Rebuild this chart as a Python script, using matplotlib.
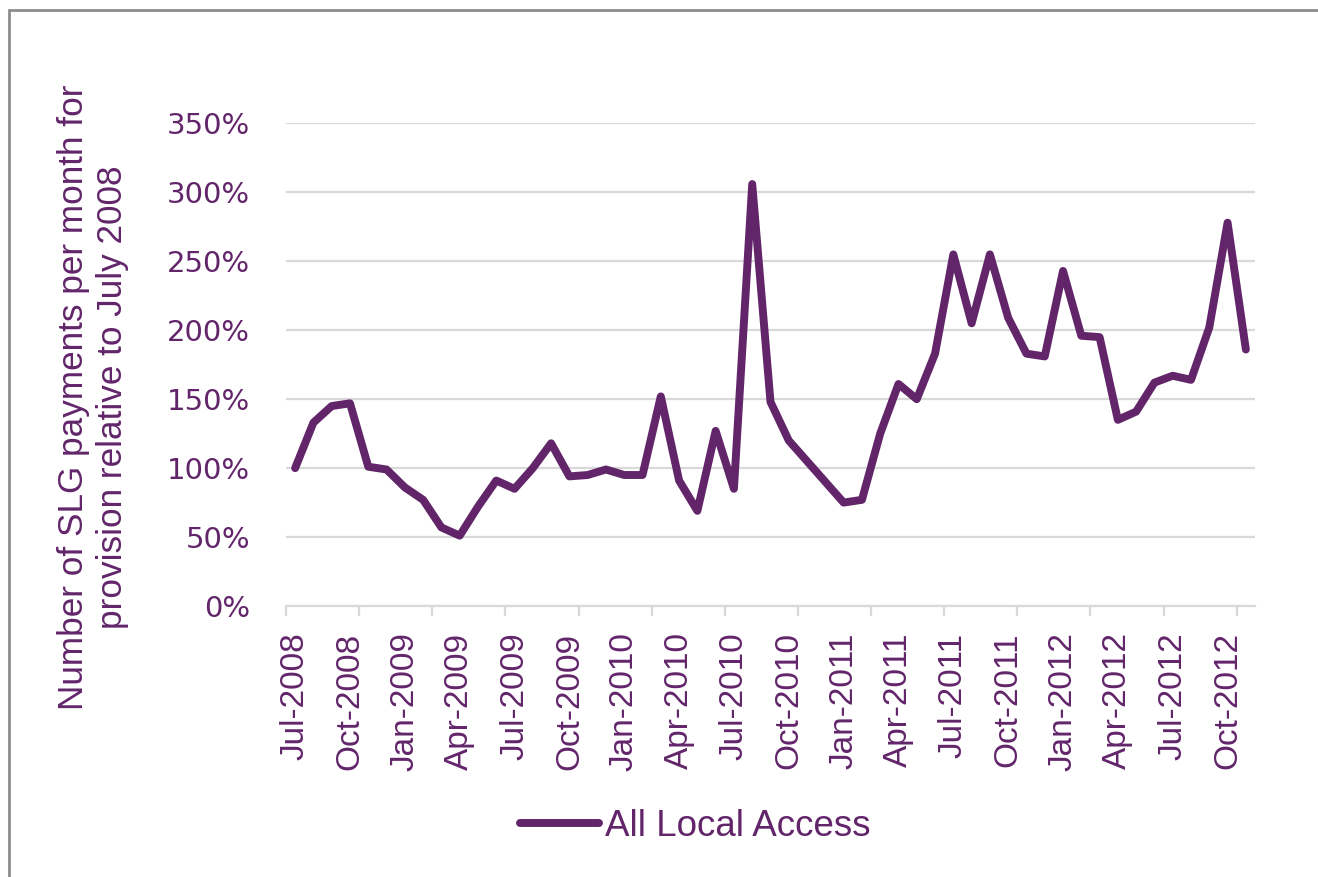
import matplotlib
matplotlib.use("Agg")
import matplotlib.pyplot as plt
from matplotlib.patches import Rectangle
import numpy as np

# monthly values, Jul-2008 .. Nov-2012, relative to July 2008
values = [1.00, 1.33, 1.45, 1.47, 1.01, 0.99, 0.86, 0.77, 0.57, 0.51,
          0.72, 0.91, 0.85, 1.00, 1.18, 0.94, 0.95, 0.99, 0.95, 0.95,
          1.52, 0.91, 0.69, 1.27, 0.85, 3.06, 1.48, 1.20, 1.05, 0.90,
          0.75, 0.77, 1.25, 1.61, 1.50, 1.83, 2.55, 2.05, 2.55, 2.09,
          1.83, 1.81, 2.43, 1.96, 1.95, 1.35, 1.41, 1.62, 1.67, 1.64,
          2.02, 2.78, 1.86]
tick_labels = ["Jul-2008", "Oct-2008", "Jan-2009", "Apr-2009", "Jul-2009",
               "Oct-2009", "Jan-2010", "Apr-2010", "Jul-2010", "Oct-2010",
               "Jan-2011", "Apr-2011", "Jul-2011", "Oct-2011", "Jan-2012",
               "Apr-2012", "Jul-2012", "Oct-2012"]
y_ticks = [0, 0.5, 1.0, 1.5, 2.0, 2.5, 3.0, 3.5]
series_name = "All Local Access"
ylabel = "Number of SLG payments per month for\nprovision relative to July 2008"

purple = "#62256A"
grid_col = "#D9D9D9"
W, H = 1318, 877

fig = plt.figure(figsize=(W / 100, H / 100), dpi=100)
ax = fig.add_axes([286 / W, 1 - 606 / H, (1255 - 286) / W, (606 - 123.4) / H])

x = np.arange(len(values))
line, = ax.plot(x, values, color=purple, lw=5.7, solid_joinstyle="round",
                solid_capstyle="round", label=series_name, zorder=3)

ax.set_xlim(-0.5, len(values) - 0.5)
ax.set_ylim(0, 3.5)

# y axis
ax.set_yticks(y_ticks)
ax.set_yticklabels([f"{int(round(v * 100))}%" for v in y_ticks],
                   family="DejaVu Sans", fontsize=21, color=purple)
ax.tick_params(axis="y", length=0, pad=26)
ax.yaxis.grid(True, color=grid_col, lw=1.6)
ax.set_axisbelow(True)

# x axis: tick marks every 4 months at category edges, labels every 3 months
ax.set_xticks(np.arange(-0.5, len(values), 4))
ax.set_xticklabels([])
ax.tick_params(axis="x", which="major", length=7.5, width=1.6, color=grid_col)
ax.set_xticks(np.arange(0, len(values), 3)[:len(tick_labels)], minor=True)
ax.set_xticklabels(tick_labels, minor=True, rotation=90,
                   family="Liberation Sans", fontsize=24, color=purple)
ax.tick_params(axis="x", which="minor", length=0, pad=19)

for s in ["top", "right", "left"]:
    ax.spines[s].set_visible(False)
ax.spines["bottom"].set_color(grid_col)
ax.spines["bottom"].set_linewidth(1.6)

fig.text(93 / W, 1 - 397 / H, ylabel, rotation=90, ha="center", va="center",
         multialignment="center", family="Liberation Sans", fontsize=25.3,
         color=purple, linespacing=1.2)

leg = fig.legend(handles=[line], loc="center", bbox_to_anchor=(695 / W, 1 - 826 / H),
                 frameon=False, handlelength=2.15, handletextpad=0.16,
                 prop={"family": "Liberation Sans", "size": 26.5})
for t in leg.get_texts():
    t.set_color(purple)

# outer chart border
fig.add_artist(Rectangle((8.5 / W, -0.1), 1.2, 1.1 - 10.5 / H, transform=fig.transFigure,
                         fill=False, edgecolor="#8C8C8C", lw=2))

fig.savefig("out.png", dpi=100)
